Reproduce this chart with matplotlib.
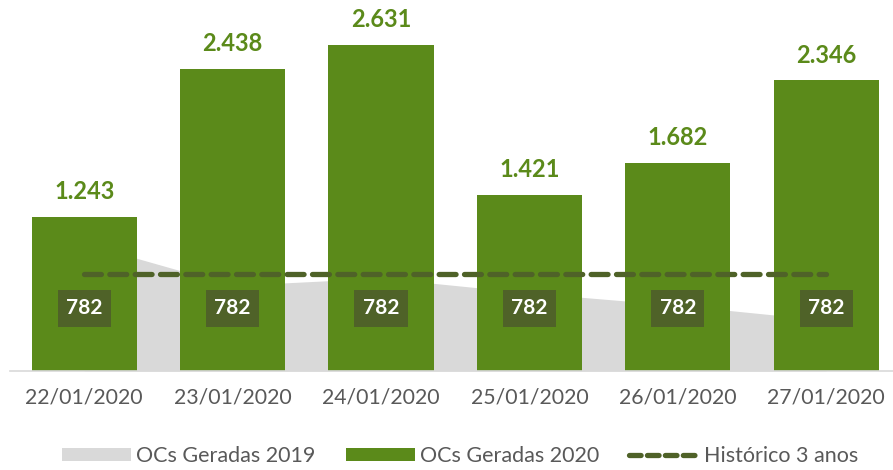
#! /usr/bin/env python3
import matplotlib
matplotlib.use("Agg")
import matplotlib.pyplot as plt
from matplotlib.patches import Patch
from matplotlib.lines import Line2D

dates = ["22/01/2020", "23/01/2020", "24/01/2020", "25/01/2020", "26/01/2020", "27/01/2020"]
ocs_2020 = [1243, 2438, 2631, 1421, 1682, 2346]
ocs_2019 = [1030, 690, 750, 630, 530, 410]
historico = [782, 782, 782, 782, 782, 782]

green = "#5B8A1A"
dark = "#4F6228"
grey = "#D9D9D9"
plt.rcParams['font.family'] = ['Lato', 'DejaVu Sans']

fig = plt.figure(figsize=(8.93, 4.70), dpi=100)
ax = fig.add_axes([10 / 893, 99 / 470, 883 / 893, 371 / 470])

x = list(range(len(dates)))
ax.fill_between(x, ocs_2019, 0, color=grey, lw=0, zorder=1)
ax.bar(x, ocs_2020, width=0.71, color=green, zorder=2)
ax.plot(x, historico, color=dark, lw=3.8, linestyle=(0, (3.2, 1.6)),
        dash_capstyle='round', zorder=3)

for i, v in enumerate(ocs_2020):
    ax.text(i, v + 110, f"{v:,}".replace(",", "."), ha='center', va='bottom',
            color=green, fontsize=17, fontweight='bold')
    ax.text(i, historico[i] - 275, str(historico[i]), ha='center', va='center',
            color='white', fontsize=15, fontweight='bold', zorder=4,
            bbox=dict(boxstyle='square,pad=0.4', fc=dark, ec='none'))

ax.set_xlim(-0.5, 5.45)
ax.set_ylim(0, 2994)
ax.set_yticks([])
ax.set_xticks(x)
ax.set_xticklabels(dates, fontsize=15.3, color='#595959')
ax.tick_params(axis='x', length=0, pad=12)
for s in ['top', 'right', 'left']:
    ax.spines[s].set_visible(False)
ax.spines['bottom'].set_color('#D9D9D9')
ax.spines['bottom'].set_linewidth(1.2)

handles = [Patch(fc=grey, ec='none', label='OCs Geradas 2019'),
           Patch(fc=green, ec='none', label='OCs Geradas 2020'),
           Line2D([], [], color=dark, lw=3.8, linestyle=(0, (2.2, 1.2)),
                  dash_capstyle='round', label='Histórico 3 anos')]
fig.legend(handles=handles, loc='center', bbox_to_anchor=(0.515, 14 / 470),
           ncol=3, frameon=False, fontsize=15.5, handlelength=3.2,
           handleheight=0.55, columnspacing=1.4, handletextpad=0.25,
           labelcolor='#595959')

fig.savefig("out.png", dpi=100)
